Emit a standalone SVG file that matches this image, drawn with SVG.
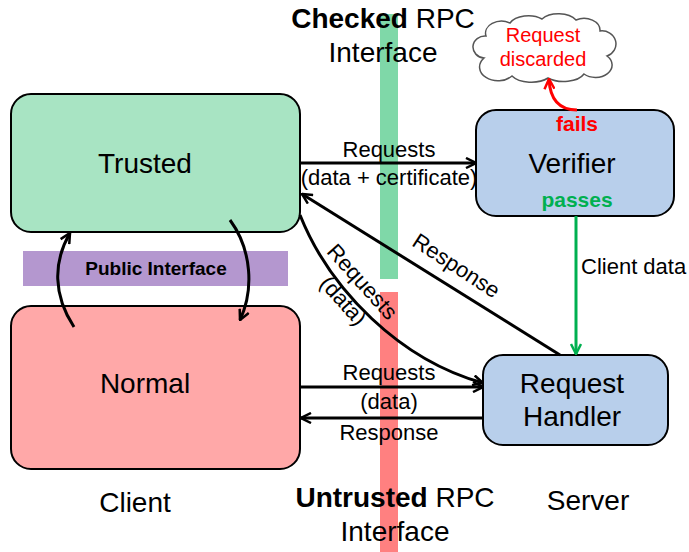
<svg xmlns="http://www.w3.org/2000/svg" width="689" height="552" viewBox="0 0 689 552">
<style>
text{font-family:"Liberation Sans",Arial,sans-serif;fill:#000}
.big{font-size:28px;text-anchor:middle}
.lbl{font-size:22px;text-anchor:middle}
.box{stroke:#000;stroke-width:2}
.arr{fill:none;stroke:#000;stroke-width:3}
</style>
<defs>
<marker id="ah" viewBox="0 0 12 12" refX="11" refY="6" markerWidth="12" markerHeight="12" markerUnits="userSpaceOnUse" orient="auto">
<path d="M1,1 L11,6 L1,11" fill="none" stroke="#000" stroke-width="2.5"/>
</marker>
<marker id="ahg" viewBox="0 0 12 12" refX="11" refY="6" markerWidth="12" markerHeight="12" markerUnits="userSpaceOnUse" orient="auto">
<path d="M1,1 L11,6 L1,11" fill="none" stroke="#00b050" stroke-width="2.5"/>
</marker>
<marker id="ahr" viewBox="0 0 12 12" refX="11" refY="6" markerWidth="12" markerHeight="12" markerUnits="userSpaceOnUse" orient="auto">
<path d="M1,1 L11,6 L1,11" fill="none" stroke="#ff0000" stroke-width="2.5"/>
</marker>
</defs>
<g id="bars">
<rect x="380" y="14" width="18" height="265" fill="#7fd8a8"/>
<rect x="380" y="292" width="18" height="260" fill="#ff8080"/>
<rect x="23" y="251" width="265" height="35" fill="#b497cf"/>
</g>
<g id="titles">
<text class="big" x="383" y="28"><tspan font-weight="bold">Checked</tspan> RPC</text>
<text class="big" x="383" y="62">Interface</text>
<text class="big" x="395" y="507"><tspan font-weight="bold">Untrusted</tspan> RPC</text>
<text class="big" x="395" y="541">Interface</text>
<text class="big" x="135" y="512">Client</text>
<text class="big" x="588" y="510">Server</text>
<text x="156" y="275" style="font-size:19px;font-weight:bold;text-anchor:middle">Public Interface</text>
</g>
<g id="trusted">
<rect class="box" x="11" y="94" width="289" height="138" rx="20" fill="#a8e4c3"/>
<text class="big" x="145" y="173">Trusted</text>
</g>
<g id="normal">
<rect class="box" x="11" y="306" width="289" height="163" rx="20" fill="#ffa8a8"/>
<text class="big" x="145" y="393">Normal</text>
</g>
<g id="verifier">
<rect class="box" x="476" y="110" width="198" height="106" rx="20" fill="#b8cfeb"/>
<text class="big" x="572" y="173">Verifier</text>
<text x="577" y="131" style="font-size:21px;font-weight:bold;text-anchor:middle;fill:#ff0000">fails</text>
<text x="577" y="207" style="font-size:21px;font-weight:bold;text-anchor:middle;fill:#00b050">passes</text>
</g>
<g id="handler">
<rect class="box" x="483" y="355" width="185" height="90" rx="20" fill="#b8cfeb"/>
<text class="big" x="572" y="393">Request</text>
<text class="big" x="572" y="426">Handler</text>
</g>
<g id="discarded">
<path d="M484,58 A12,11 0 0 1 486,36 A16,12 0 0 1 510,23 A20,12 0 0 1 542,19 A20,12 0 0 1 576,20 A16,12 0 0 1 600,31 A14,13 0 0 1 607,56 A16,12 0 0 1 584,74 A22,12 0 0 1 548,78 A22,12 0 0 1 512,76 A16,12 0 0 1 484,58 Z" fill="#fff" stroke="#555" stroke-width="1.5"/>
<text x="543" y="42" style="font-size:20px;text-anchor:middle;fill:#ff0000">Request</text>
<text x="543" y="66" style="font-size:20px;text-anchor:middle;fill:#ff0000">discarded</text>
</g>
<g id="connectors">
<line class="arr" x1="300" y1="163" x2="476" y2="163" marker-end="url(#ah)"/>
<line class="arr" x1="560" y1="355" x2="302" y2="194" marker-end="url(#ah)"/>
<path class="arr" d="M300,215 C330,290 400,360 483,383" marker-end="url(#ah)"/>
<line class="arr" x1="300" y1="387" x2="483" y2="387" marker-end="url(#ah)"/>
<line class="arr" x1="483" y1="418" x2="301" y2="418" marker-end="url(#ah)"/>
<line x1="576" y1="216" x2="576" y2="354" fill="none" stroke="#00b050" stroke-width="3" marker-end="url(#ahg)"/>
<path d="M577,110 C560,110 550,100 549,79" fill="none" stroke="#ff0000" stroke-width="3" marker-end="url(#ahr)"/>
<path class="arr" d="M74,327 C53,295 53,262 70,233" marker-end="url(#ah)"/>
<path class="arr" d="M230,220 C252,250 254,290 240,320" marker-end="url(#ah)"/>
<text class="lbl" x="389" y="157">Requests</text>
<text class="lbl" x="389" y="185">(data + certificate)</text>
<text class="lbl" x="389" y="380">Requests</text>
<text class="lbl" x="389" y="409">(data)</text>
<text class="lbl" x="389" y="440">Response</text>
<text x="581" y="274" style="font-size:22px">Client data</text>
<text class="lbl" transform="translate(456,266) rotate(33)" y="7">Response</text>
<text class="lbl" transform="translate(362,282) rotate(48)" y="7">Requests</text>
<text class="lbl" transform="translate(343,301) rotate(48)" y="7">(data)</text>
</g>
</svg>
